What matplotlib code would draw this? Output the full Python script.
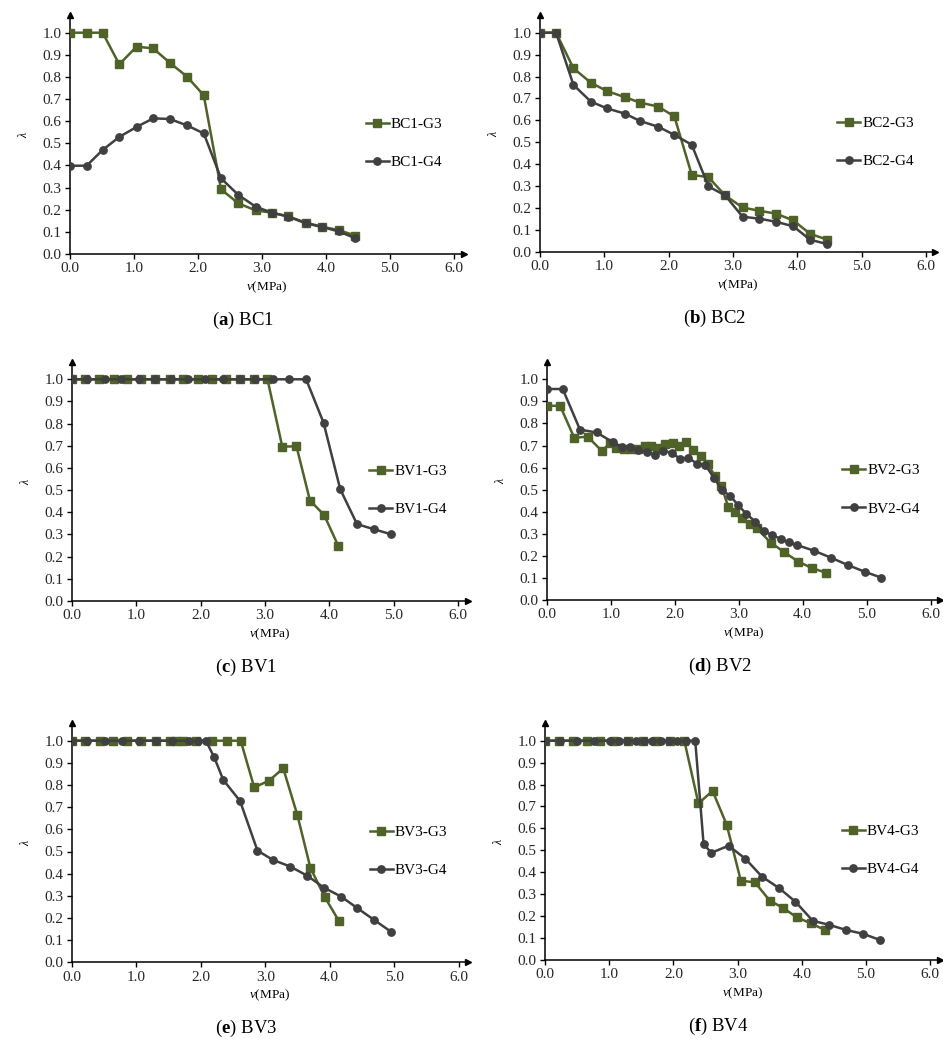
import matplotlib
matplotlib.use("Agg")
import matplotlib.pyplot as plt

plt.rcParams['font.family'] = ['Liberation Serif', 'DejaVu Serif']
plt.rcParams['mathtext.fontset'] = 'custom'
plt.rcParams['mathtext.rm'] = 'Liberation Serif'
plt.rcParams['mathtext.it'] = 'Liberation Serif:italic'
plt.rcParams['mathtext.bf'] = 'Liberation Serif:bold'

GREEN = '#4f6228'
GRAY = '#404040'

# ---------------- data ----------------
bc1_x = [0, 0.26, 0.51, 0.77, 1.04, 1.30, 1.56, 1.83, 2.09, 2.36, 2.63, 2.90, 3.15, 3.41, 3.68, 3.94, 4.20, 4.46]
bc1_g3 = [1.0, 1.0, 1.0, 0.857, 0.937, 0.929, 0.864, 0.801, 0.717, 0.292, 0.229, 0.197, 0.187, 0.170, 0.142, 0.123, 0.108, 0.083]
bc1_g4 = [0.399, 0.399, 0.470, 0.529, 0.574, 0.613, 0.610, 0.581, 0.545, 0.342, 0.267, 0.214, 0.187, 0.169, 0.139, 0.122, 0.102, 0.071]

bc2_x = [0, 0.25, 0.52, 0.79, 1.04, 1.32, 1.56, 1.84, 2.09, 2.36, 2.62, 2.88, 3.15, 3.41, 3.67, 3.94, 4.20, 4.47]
bc2_g3 = [1.0, 1.0, 0.838, 0.772, 0.734, 0.706, 0.681, 0.663, 0.618, 0.352, 0.341, 0.258, 0.203, 0.188, 0.175, 0.144, 0.083, 0.056]
bc2_g4 = [1.0, 1.0, 0.762, 0.686, 0.655, 0.631, 0.597, 0.571, 0.534, 0.489, 0.299, 0.258, 0.161, 0.152, 0.138, 0.117, 0.056, 0.036]

bv1_g3_x = [0, 0.21, 0.43, 0.65, 0.86, 1.08, 1.30, 1.53, 1.73, 1.96, 2.18, 2.39, 2.61, 2.83, 3.04, 3.27, 3.49, 3.70, 3.92, 4.14]
bv1_g3 = [1.0] * 15 + [0.696, 0.698, 0.453, 0.388, 0.248]
bv1_g4_x = [0, 0.24, 0.51, 0.77, 1.04, 1.30, 1.54, 1.81, 2.07, 2.35, 2.61, 2.85, 3.12, 3.38, 3.64, 3.91, 4.17, 4.43, 4.70, 4.96]
bv1_g4 = [1.0] * 15 + [0.805, 0.504, 0.347, 0.323, 0.301]

bv2_g3_x = [0, 0.21, 0.43, 0.64, 0.86, 0.99, 1.08, 1.20, 1.31, 1.42, 1.53, 1.63, 1.73, 1.85, 1.97, 2.07,
            2.18, 2.29, 2.41, 2.52, 2.63, 2.73, 2.84, 2.94, 3.05, 3.17, 3.28, 3.50, 3.71, 3.93, 4.15, 4.36]
bv2_g3 = [0.880, 0.880, 0.735, 0.740, 0.676, 0.710, 0.687, 0.683, 0.685, 0.683, 0.700, 0.700, 0.690, 0.705, 0.710, 0.698,
          0.717, 0.680, 0.652, 0.616, 0.560, 0.516, 0.420, 0.400, 0.370, 0.345, 0.325, 0.260, 0.217, 0.174, 0.144, 0.124]
bv2_g4_x = [0, 0.25, 0.52, 0.78, 1.04, 1.17, 1.30, 1.43, 1.56, 1.69, 1.82, 1.95, 2.08, 2.21, 2.35, 2.48,
            2.61, 2.74, 2.87, 2.99, 3.12, 3.26, 3.39, 3.52, 3.66, 3.78, 3.91, 4.17, 4.44, 4.70, 4.97, 5.23]
bv2_g4 = [0.956, 0.956, 0.772, 0.759, 0.714, 0.694, 0.691, 0.679, 0.671, 0.659, 0.676, 0.667, 0.641, 0.644, 0.618, 0.611,
          0.555, 0.498, 0.471, 0.430, 0.390, 0.355, 0.313, 0.295, 0.276, 0.261, 0.249, 0.224, 0.192, 0.159, 0.128, 0.101]

bv3_g3_x = [0, 0.21, 0.44, 0.64, 0.86, 1.07, 1.30, 1.52, 1.62, 1.73, 1.93, 2.17, 2.40, 2.62, 2.83, 3.06, 3.28, 3.50, 3.70, 3.92, 4.14]
bv3_g3 = [1.0] * 14 + [0.789, 0.820, 0.875, 0.663, 0.427, 0.296, 0.188]
bv3_g4_x = [0, 0.24, 0.52, 0.78, 1.04, 1.30, 1.55, 1.82, 1.96, 2.08, 2.21, 2.35, 2.61, 2.88, 3.12, 3.39, 3.65, 3.91, 4.18, 4.43, 4.69, 4.95]
bv3_g4 = [1.0] * 10 + [0.925, 0.823, 0.728, 0.504, 0.462, 0.432, 0.391, 0.337, 0.296, 0.244, 0.191, 0.138]

bv4_g3_x = [0, 0.22, 0.43, 0.65, 0.86, 1.08, 1.30, 1.52, 1.73, 1.95, 2.17, 2.39, 2.61, 2.83, 3.05, 3.27, 3.50, 3.70, 3.92, 4.14, 4.36]
bv4_g3 = [1.0] * 11 + [0.714, 0.771, 0.617, 0.362, 0.354, 0.271, 0.239, 0.195, 0.167, 0.137]
bv4_g4_x = [0, 0.23, 0.50, 0.76, 1.02, 1.15, 1.28, 1.41, 1.54, 1.67, 1.80, 1.93, 2.06, 2.19, 2.34,
            2.47, 2.59, 2.86, 3.12, 3.38, 3.65, 3.90, 4.17, 4.43, 4.69, 4.96, 5.22]
bv4_g4 = [1.0] * 15 + [0.529, 0.489, 0.521, 0.462, 0.380, 0.327, 0.266, 0.179, 0.160, 0.137, 0.119, 0.091]

y_ticks = [0.0, 0.1, 0.2, 0.3, 0.4, 0.5, 0.6, 0.7, 0.8, 0.9, 1.0]
x_ticks = [0.0, 1.0, 2.0, 3.0, 4.0, 5.0, 6.0]

panels = [
    # (letter, name, g3x, g3y, g4x, g4y, rect in px: left, axis-bottom, px per x unit, px per y unit)
    ('a', 'BC1', bc1_x, bc1_g3, bc1_x, bc1_g4, (70.0, 254.0, 64.0, 221.3)),
    ('b', 'BC2', bc2_x, bc2_g3, bc2_x, bc2_g4, (540.0, 252.0, 64.3, 219.3)),
    ('c', 'BV1', bv1_g3_x, bv1_g3, bv1_g4_x, bv1_g4, (71.7, 601.0, 64.4, 221.7)),
    ('d', 'BV2', bv2_g3_x, bv2_g3, bv2_g4_x, bv2_g4, (546.7, 600.0, 64.0, 220.7)),
    ('e', 'BV3', bv3_g3_x, bv3_g3, bv3_g4_x, bv3_g4, (71.7, 962.3, 64.5, 221.6)),
    ('f', 'BV4', bv4_g3_x, bv4_g3, bv4_g4_x, bv4_g4, (545.0, 960.0, 64.2, 219.3)),
]

W, H = 943, 1039
XMAX, YMAX = 6.15, 1.08
fig = plt.figure(figsize=(W / 100, H / 100), dpi=100)

for letter, name, g3x, g3y, g4x, g4y, (lpx, bpx, sx, sy) in panels:
    wpx = XMAX * sx
    hpx = YMAX * sy
    ax = fig.add_axes([lpx / W, (H - bpx) / H, wpx / W, hpx / H])
    ax.plot(g3x, g3y, color=GREEN, lw=1.8, marker='s', ms=5.8, label=f'{name}-G3', zorder=3)
    ax.plot(g4x, g4y, color=GRAY, lw=1.8, marker='o', ms=5.3, label=f'{name}-G4', zorder=4)
    ax.set_xlim(0, XMAX)
    ax.set_ylim(0, YMAX)
    ax.set_xticks(x_ticks)
    ax.set_xticklabels([f'{v:.1f}' for v in x_ticks])
    ax.set_yticks(y_ticks)
    ax.set_yticklabels([f'{v:.1f}' for v in y_ticks])
    for s in ('top', 'right'):
        ax.spines[s].set_visible(False)
    for s in ('left', 'bottom'):
        ax.spines[s].set_linewidth(1.1)
        ax.spines[s].set_color('black')
    ax.tick_params(axis='both', direction='out', length=3.5, width=1.0, labelsize=11,
                   labelcolor='#262626', pad=2.5)
    # axis arrows
    ax.plot(1, 0, marker='>', color='black', ms=5, transform=ax.transAxes, clip_on=False)
    ax.plot(0, 1, marker='^', color='black', ms=5, transform=ax.transAxes, clip_on=False)
    ax.set_xlabel(r'$\mathit{v}$(MPa)', fontsize=9.5, labelpad=3)
    ax.set_ylabel(r'$\mathit{\lambda}$', fontsize=8.5, labelpad=9)
    ax.legend(loc='center left', bbox_to_anchor=(4.62 / XMAX, 0.50 / YMAX), frameon=False,
              fontsize=11, handlelength=1.5, handletextpad=0.15, labelspacing=1.6,
              borderpad=0, borderaxespad=0)
    ax.text(0.44, -66.0 / hpx, f'($\\mathbf{{{letter}}}$) {name}', transform=ax.transAxes,
            ha='center', va='center', fontsize=13.5)

fig.savefig('out.png', dpi=100)
